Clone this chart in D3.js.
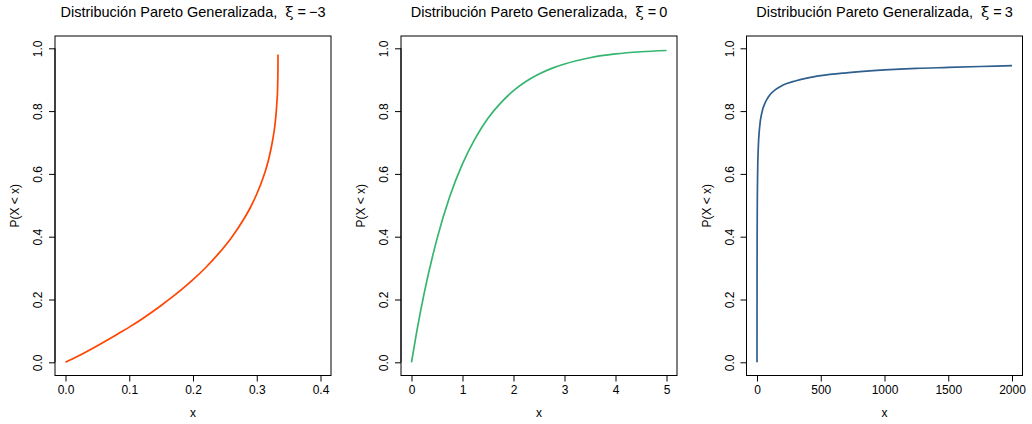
<!DOCTYPE html>
<html>
<head>
<meta charset="utf-8">
<script src="https://cdn.jsdelivr.net/npm/d3@7"></script>
<style>
  body { margin: 0; background: #fff; }
  svg text { font-family: "Liberation Sans", Arial, sans-serif; fill: #000; }
</style>
</head>
<body>
<svg id="chart" width="1032" height="424"></svg>
<script>
// Valores
const xiValues = ["\u22123", "0", "3"];
const lineColors = ["#ff4500", "#35b56f", "#2e5f8e"];

const xGpdNeg = [0, 0.02, 0.05, 0.08, 0.10, 0.12, 0.15, 0.18, 0.20, 0.22, 0.24, 0.26, 0.28, 0.29, 0.30, 0.31, 0.315, 0.32, 0.325, 0.328, 0.33, 0.331, 0.332, 0.3327, 0.333, 0.3332, 0.3333, 0.33333];
const yGpdNeg = [0, 0.020, 0.053, 0.088, 0.112, 0.138, 0.181, 0.228, 0.263, 0.302, 0.346, 0.396, 0.457, 0.493, 0.536, 0.588, 0.619, 0.658, 0.708, 0.747, 0.785, 0.810, 0.841, 0.871, 0.900, 0.926, 0.954, 0.980];

const xGpdZero = [0, 0.1, 0.25, 0.5, 0.75, 1, 1.25, 1.5, 1.75, 2, 2.25, 2.5, 2.75, 3, 3.5, 4, 4.5, 5];
const yGpdZero = [0, 0.095, 0.221, 0.393, 0.528, 0.632, 0.713, 0.777, 0.826, 0.865, 0.895, 0.918, 0.936, 0.950, 0.970, 0.982, 0.989, 0.993];

const xGpdPos = [0, 0.5, 1, 2, 5, 10, 20, 40, 60, 80, 100, 150, 200, 300, 400, 500, 700, 1000, 1250, 1500, 1750, 2000];
const yGpdPos = [0, 0.263, 0.370, 0.477, 0.603, 0.682, 0.746, 0.798, 0.823, 0.839, 0.851, 0.870, 0.882, 0.896, 0.906, 0.913, 0.922, 0.931, 0.936, 0.939, 0.942, 0.945];

const xDomains = [[0, 0.4], [0, 5], [0, 2000]];
const xTicks = [[0, 0.1, 0.2, 0.3, 0.4], [0, 1, 2, 3, 4, 5], [0, 500, 1000, 1500, 2000]];
const xTickFormats = [d3.format(".1f"), d3.format("d"), d3.format("d")];
const yTicks = [0, 0.2, 0.4, 0.6, 0.8, 1.0];

const panels = [
  { x: xGpdNeg, y: yGpdNeg },
  { x: xGpdZero, y: yGpdZero },
  { x: xGpdPos, y: yGpdPos }
];

const svg = d3.select("#chart");
const boxLefts = [55, 401, 746.5];
const boxW = 276, boxTop = 36, boxBottom = 375.5;
const inset = 10.5;

const y = d3.scaleLinear().domain([0, 1]).range([362.3, 48.3]);

panels.forEach((p, i) => {
  const left = boxLefts[i];
  const x = d3.scaleLinear()
    .domain(xDomains[i])
    .range([left + inset, left + boxW - inset]);

  const g = svg.append("g");

  // caja
  g.append("rect")
    .attr("x", left).attr("y", boxTop)
    .attr("width", boxW).attr("height", boxBottom - boxTop)
    .attr("fill", "none").attr("stroke", "#000").attr("stroke-width", 1);

  // eje x
  const ax = g.append("g")
    .attr("transform", `translate(0,${boxBottom})`)
    .call(d3.axisBottom(x).tickValues(xTicks[i]).tickFormat(xTickFormats[i]).tickSizeOuter(0).tickSizeInner(6).tickPadding(4));
  ax.selectAll("text").style("font-size", "12px");
  ax.select(".domain").attr("d", `M${x(xTicks[i][0])},0H${x(xTicks[i][xTicks[i].length - 1])}`);

  // eje y
  const ay = g.append("g")
    .attr("transform", `translate(${left},0)`)
    .call(d3.axisLeft(y).tickValues(yTicks).tickFormat(d3.format(".1f")).tickSizeOuter(0).tickSizeInner(6));
  ay.select(".domain").attr("d", `M0,${y(0)}V${y(1)}`);
  ay.selectAll(".tick text")
    .style("font-size", "12px")
    .attr("x", 0).attr("dy", 0)
    .attr("text-anchor", "middle")
    .attr("transform", "translate(-13,0) rotate(-90)");

  // curva
  const pts = p.x.map((v, k) => [v, p.y[k]]);
  g.append("path")
    .datum(pts)
    .attr("fill", "none")
    .attr("stroke", lineColors[i])
    .attr("stroke-width", 1.7)
    .attr("d", d3.line().x(d => x(d[0])).y(d => y(d[1])).curve(d3.curveMonotoneX));

  // títulos
  const cx = left + boxW / 2;
  const t = g.append("text")
    .attr("x", cx).attr("y", 17)
    .attr("text-anchor", "middle")
    .style("font-size", "14.5px");
  t.append("tspan").text("Distribución Pareto Generalizada,");
  t.append("tspan").attr("dx", 8).style("font-family", "'DejaVu Serif', serif").style("font-size", "15px").text("\u03BE");
  t.append("tspan").attr("dx", 4).text("=");
  t.append("tspan").attr("dx", 3).text(xiValues[i]);

  g.append("text")
    .attr("x", cx).attr("y", 417)
    .attr("text-anchor", "middle")
    .style("font-size", "12px")
    .text("x");

  g.append("text")
    .attr("transform", `translate(${left - 36},${(boxTop + boxBottom) / 2}) rotate(-90)`)
    .attr("text-anchor", "middle")
    .style("font-size", "12px")
    .text("P(X < x)");
});
</script>
</body>
</html>
